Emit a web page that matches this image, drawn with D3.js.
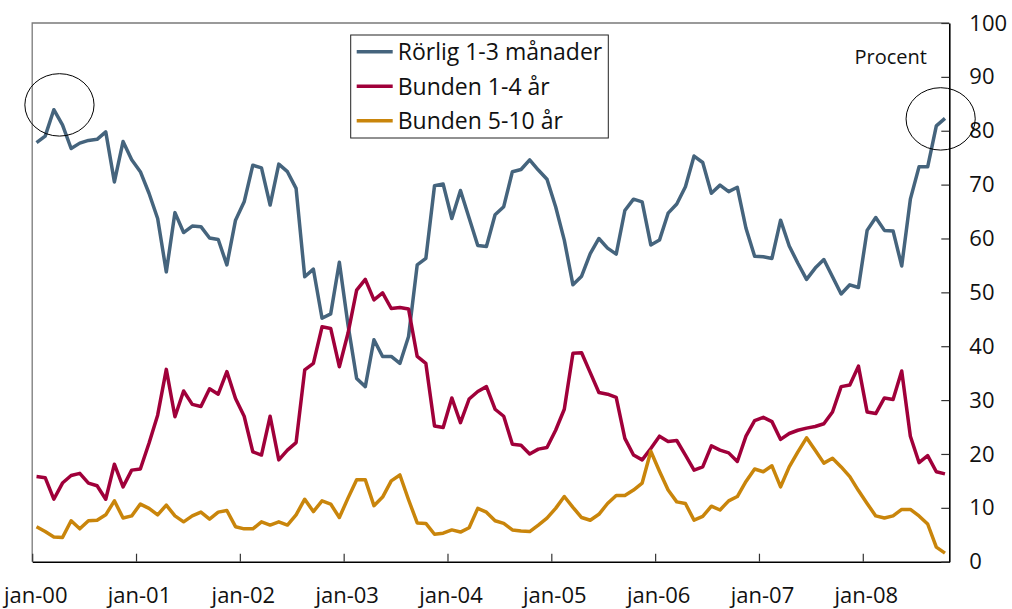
<!DOCTYPE html>
<html>
<head>
<meta charset="utf-8">
<script src="https://cdn.jsdelivr.net/npm/d3@7"></script>
<style>
  html, body { margin: 0; padding: 0; background: #fff; }
  svg { display: block; font-family: "Open Sans", "Noto Sans", sans-serif; }
</style>
</head>
<body>
<svg id="chart" width="1012" height="609"></svg>
<script>
// monthly shares, jan-00 .. okt-08 (percent)
var rorlig = [
  77.8, 79.0, 83.9, 81.1, 76.7, 77.7, 78.2, 78.4, 79.8, 70.5, 78.0, 74.6,
  72.4, 68.4, 63.7, 53.8, 64.8, 61.1, 62.3, 62.2, 60.1, 59.8, 55.1, 63.4,
  66.8, 73.6, 73.1, 66.2, 73.8, 72.4, 69.3, 52.9, 54.3, 45.2, 46.0, 55.6,
  44.0, 34.0, 32.5, 41.2, 38.1, 38.1, 36.8, 41.8, 55.1, 56.3, 69.8, 70.1,
  63.7, 68.9, 63.8, 58.7, 58.5, 64.4, 65.9, 72.4, 72.8, 74.6, 72.7, 71.0,
  65.9, 59.7, 51.4, 53.0, 57.2, 60.0, 58.2, 57.1, 65.2, 67.3, 66.8, 58.8,
  59.7, 64.7, 66.4, 69.6, 75.3, 74.1, 68.4, 69.9, 68.7, 69.5, 61.9, 56.7,
  56.6, 56.3, 63.4, 58.6, 55.4, 52.4, 54.5, 56.1, 52.9, 49.7, 51.4, 50.9,
  61.5, 63.9, 61.5, 61.4, 54.9, 67.3, 73.3, 73.3, 80.9, 82.3
];
var bunden14 = [
  15.8, 15.6, 11.6, 14.6, 16.0, 16.4, 14.6, 14.1, 11.6, 18.1, 13.9, 17.0,
  17.2, 22.0, 27.2, 35.7, 26.9, 31.7, 29.2, 28.8, 32.1, 31.1, 35.3, 30.3,
  27.0, 20.4, 19.8, 27.0, 18.9, 20.7, 22.1, 35.6, 36.8, 43.6, 43.3, 36.2,
  42.4, 50.4, 52.4, 48.6, 49.9, 47.0, 47.2, 46.9, 38.1, 36.8, 25.2, 24.9,
  30.4, 25.8, 30.2, 31.6, 32.5, 28.3, 27.0, 21.8, 21.6, 20.0, 20.9, 21.2,
  24.4, 28.3, 38.7, 38.8, 35.1, 31.4, 31.1, 30.5, 22.9, 19.8, 18.9, 21.0,
  23.3, 22.3, 22.5, 19.8, 17.0, 17.6, 21.5, 20.7, 20.2, 18.6, 23.3, 26.2,
  26.8, 26.0, 22.7, 23.8, 24.4, 24.8, 25.1, 25.6, 27.8, 32.5, 32.8, 36.3,
  27.8, 27.5, 30.4, 30.1, 35.4, 23.3, 18.4, 19.7, 16.7, 16.3
];
var bunden510 = [
  6.5, 5.6, 4.6, 4.5, 7.6, 6.1, 7.6, 7.7, 8.7, 11.3, 8.1, 8.5,
  10.7, 9.9, 8.7, 10.5, 8.5, 7.4, 8.5, 9.2, 7.9, 9.2, 9.5, 6.5,
  6.1, 6.1, 7.4, 6.8, 7.4, 6.8, 8.7, 11.6, 9.3, 11.3, 10.7, 8.2,
  11.8, 15.2, 15.2, 10.4, 12.0, 15.0, 16.1, 11.5, 7.2, 7.1, 5.1, 5.3,
  5.9, 5.5, 6.3, 9.9, 9.2, 7.6, 7.1, 5.9, 5.7, 5.6, 6.8, 8.1,
  9.9, 12.1, 10.1, 8.2, 7.7, 8.8, 10.8, 12.3, 12.3, 13.3, 14.6, 20.5,
  16.8, 13.3, 11.1, 10.8, 7.7, 8.4, 10.3, 9.6, 11.3, 12.1, 14.9, 17.2,
  16.7, 17.8, 13.9, 17.6, 20.4, 23.0, 20.7, 18.3, 19.2, 17.6, 15.8, 13.2,
  10.8, 8.5, 8.1, 8.5, 9.7, 9.7, 8.5, 7.0, 2.7, 1.6
];

var seriesNames = ["Rörlig 1-3 månader", "Bunden 1-4 år", "Bunden 5-10 år"];
var seriesColors = ["#45647d", "#a0003a", "#c9850b"];
var xTickLabels = ["jan-00", "jan-01", "jan-02", "jan-03", "jan-04", "jan-05", "jan-06", "jan-07", "jan-08"];
var yTicks = [0, 10, 20, 30, 40, 50, 60, 70, 80, 90, 100];
var unitLabel = "Procent";
// circled points: month index, value
var circled = [[3.15, 84.8], [105, 82.2]];

var svg = d3.select("#chart");
var plotLeft = 32.2, plotRight = 949.3, plotTop = 23, plotBottom = 561.7;
var nMonths = rorlig.length;

var x = d3.scaleLinear().domain([0, nMonths]).range([plotLeft, plotRight]);
var y = d3.scaleLinear().domain([0, 100]).range([plotBottom, plotTop]);

// frame (left + top, grey)
svg.append("path")
  .attr("d", "M" + plotLeft + "," + plotBottom + "V" + plotTop + "H" + plotRight)
  .attr("fill", "none")
  .attr("stroke", "#7a7a7a")
  .attr("stroke-width", 1.3);

// bottom axis
var xAxis = d3.axisBottom(x)
  .tickValues(xTickLabels.map(function (d, i) { return i * 12; }))
  .tickFormat(function (d, i) { return xTickLabels[i]; })
  .tickSizeInner(-8)
  .tickSizeOuter(0)
  .tickPadding(26);

var gx = svg.append("g")
  .attr("transform", "translate(0," + plotBottom + ")")
  .call(xAxis);
gx.select(".domain").attr("stroke", "#000").attr("stroke-width", 1.6);
gx.selectAll(".tick line").attr("stroke", "#333").attr("stroke-width", 1.2);
gx.selectAll(".tick text")
  .attr("font-size", 22)
  .attr("font-family", "Open Sans, sans-serif")
  .attr("fill", "#111")
  .attr("dx", 3);

// right axis
var yAxis = d3.axisRight(y)
  .tickValues(yTicks)
  .tickSizeInner(-8)
  .tickSizeOuter(0)
  .tickPadding(20);

var gy = svg.append("g")
  .attr("transform", "translate(" + plotRight + ",0)")
  .call(yAxis);
gy.select(".domain").attr("stroke", "#000").attr("stroke-width", 1.6);
gy.selectAll(".tick line").attr("stroke", "#333").attr("stroke-width", 1.2);
gy.selectAll(".tick text")
  .attr("font-size", 22)
  .attr("font-family", "Open Sans, sans-serif")
  .attr("fill", "#111");

// lines
var line = d3.line()
  .x(function (d, i) { return x(i + 0.5); })
  .y(function (d) { return y(d); });

[rorlig, bunden14, bunden510].forEach(function (s, k) {
  svg.append("path")
    .datum(s)
    .attr("fill", "none")
    .attr("stroke", seriesColors[k])
    .attr("stroke-width", 3.5)
    .attr("stroke-linejoin", "round")
    .attr("d", line);
});

// circles round first and last points
svg.selectAll(".mark-ring")
  .data(circled)
  .enter()
  .append("ellipse")
  .attr("class", "mark-ring")
  .attr("cx", function (d) { return x(d[0]); })
  .attr("cy", function (d) { return y(d[1]); })
  .attr("rx", 34.6)
  .attr("ry", 31.2)
  .attr("fill", "none")
  .attr("stroke", "#000")
  .attr("stroke-width", 1);

// unit label
svg.append("text")
  .attr("x", 927)
  .attr("y", 64)
  .attr("text-anchor", "end")
  .attr("font-size", 20)
  .attr("fill", "#111")
  .text(unitLabel);

// legend
var legend = svg.append("g").attr("transform", "translate(350.7,35)");
legend.append("rect")
  .attr("width", 257.6)
  .attr("height", 103)
  .attr("fill", "#fff")
  .attr("stroke", "#222")
  .attr("stroke-width", 1);

var row = legend.selectAll(".row")
  .data(seriesNames)
  .enter()
  .append("g")
  .attr("class", "row")
  .attr("transform", function (d, i) { return "translate(0," + (16.7 + i * 34.5) + ")"; });
row.append("line")
  .attr("x1", 6).attr("x2", 42)
  .attr("stroke", function (d, i) { return seriesColors[i]; })
  .attr("stroke-width", 3.5);
row.append("text")
  .attr("x", 47)
  .attr("y", 8.5)
  .attr("font-size", 23)
  .attr("fill", "#111")
  .text(function (d) { return d; });
</script>
</body>
</html>
